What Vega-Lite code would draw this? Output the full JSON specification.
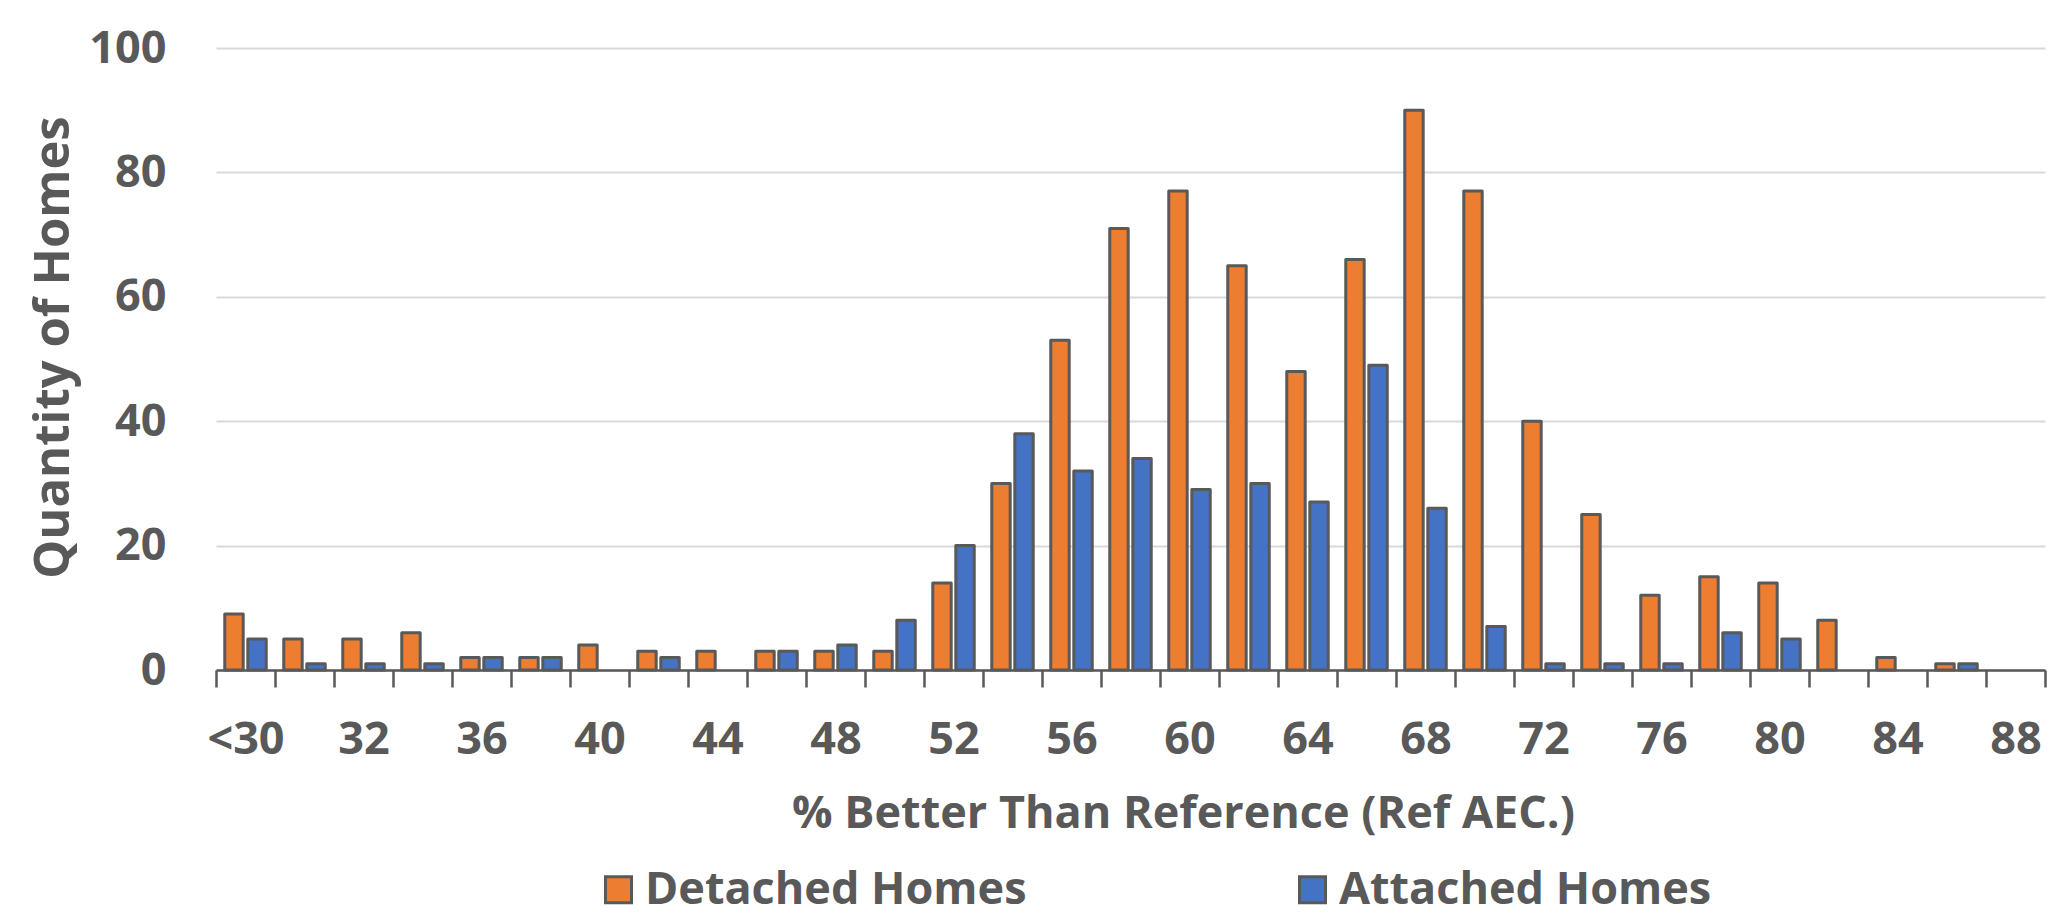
{
  "$schema": "https://vega.github.io/schema/vega-lite/v6.json",
  "width": 1829,
  "height": 622,
  "autosize": {"type": "none"},
  "padding": {"left": 216, "top": 48, "right": 27, "bottom": 253},
  "background": "white",
  "config": {
    "view": {"stroke": null},
    "font": "Open Sans"
  },
  "data": {
    "values": [
      {"bin": "<30", "type": "Detached Homes", "count": 9},
      {"bin": "<30", "type": "Attached Homes", "count": 5},
      {"bin": "30", "type": "Detached Homes", "count": 5},
      {"bin": "30", "type": "Attached Homes", "count": 1},
      {"bin": "32", "type": "Detached Homes", "count": 5},
      {"bin": "32", "type": "Attached Homes", "count": 1},
      {"bin": "34", "type": "Detached Homes", "count": 6},
      {"bin": "34", "type": "Attached Homes", "count": 1},
      {"bin": "36", "type": "Detached Homes", "count": 2},
      {"bin": "36", "type": "Attached Homes", "count": 2},
      {"bin": "38", "type": "Detached Homes", "count": 2},
      {"bin": "38", "type": "Attached Homes", "count": 2},
      {"bin": "40", "type": "Detached Homes", "count": 4},
      {"bin": "42", "type": "Detached Homes", "count": 3},
      {"bin": "42", "type": "Attached Homes", "count": 2},
      {"bin": "44", "type": "Detached Homes", "count": 3},
      {"bin": "46", "type": "Detached Homes", "count": 3},
      {"bin": "46", "type": "Attached Homes", "count": 3},
      {"bin": "48", "type": "Detached Homes", "count": 3},
      {"bin": "48", "type": "Attached Homes", "count": 4},
      {"bin": "50", "type": "Detached Homes", "count": 3},
      {"bin": "50", "type": "Attached Homes", "count": 8},
      {"bin": "52", "type": "Detached Homes", "count": 14},
      {"bin": "52", "type": "Attached Homes", "count": 20},
      {"bin": "54", "type": "Detached Homes", "count": 30},
      {"bin": "54", "type": "Attached Homes", "count": 38},
      {"bin": "56", "type": "Detached Homes", "count": 53},
      {"bin": "56", "type": "Attached Homes", "count": 32},
      {"bin": "58", "type": "Detached Homes", "count": 71},
      {"bin": "58", "type": "Attached Homes", "count": 34},
      {"bin": "60", "type": "Detached Homes", "count": 77},
      {"bin": "60", "type": "Attached Homes", "count": 29},
      {"bin": "62", "type": "Detached Homes", "count": 65},
      {"bin": "62", "type": "Attached Homes", "count": 30},
      {"bin": "64", "type": "Detached Homes", "count": 48},
      {"bin": "64", "type": "Attached Homes", "count": 27},
      {"bin": "66", "type": "Detached Homes", "count": 66},
      {"bin": "66", "type": "Attached Homes", "count": 49},
      {"bin": "68", "type": "Detached Homes", "count": 90},
      {"bin": "68", "type": "Attached Homes", "count": 26},
      {"bin": "70", "type": "Detached Homes", "count": 77},
      {"bin": "70", "type": "Attached Homes", "count": 7},
      {"bin": "72", "type": "Detached Homes", "count": 40},
      {"bin": "72", "type": "Attached Homes", "count": 1},
      {"bin": "74", "type": "Detached Homes", "count": 25},
      {"bin": "74", "type": "Attached Homes", "count": 1},
      {"bin": "76", "type": "Detached Homes", "count": 12},
      {"bin": "76", "type": "Attached Homes", "count": 1},
      {"bin": "78", "type": "Detached Homes", "count": 15},
      {"bin": "78", "type": "Attached Homes", "count": 6},
      {"bin": "80", "type": "Detached Homes", "count": 14},
      {"bin": "80", "type": "Attached Homes", "count": 5},
      {"bin": "82", "type": "Detached Homes", "count": 8},
      {"bin": "84", "type": "Detached Homes", "count": 2},
      {"bin": "86", "type": "Detached Homes", "count": 1},
      {"bin": "86", "type": "Attached Homes", "count": 1}
    ]
  },
  "mark": {"type": "bar", "stroke": "#595959", "strokeWidth": 3, "strokeJoin": "round"},
  "encoding": {
    "x": {
      "field": "bin",
      "type": "nominal",
      "scale": {
        "domain": ["<30", "30", "32", "34", "36", "38", "40", "42", "44", "46", "48", "50", "52", "54", "56", "58", "60", "62", "64", "66", "68", "70", "72", "74", "76", "78", "80", "82", "84", "86", "88"],
        "paddingInner": 0,
        "paddingOuter": 0
      },
      "axis": {
        "title": "% Better Than Reference (Ref AEC.)",
        "titleFontSize": 45,
        "titleFontWeight": "bold",
        "titleColor": "#595959",
        "titleX": 967,
        "titleY": 143,
        "titleAnchor": "middle",
        "titleAlign": "center",
        "titleBaseline": "middle",
        "labelAngle": 0,
        "labelFontSize": 45,
        "labelFontWeight": "bold",
        "labelColor": "#595959",
        "labelPadding": 30,
        "labelOverlap": false,
        "labelExpr": "indexof(['<30','32','36','40','44','48','52','56','60','64','68','72','76','80','84','88'], datum.value) >= 0 ? datum.label : ''",
        "domainColor": "#595959",
        "domainWidth": 2.5,
        "tickColor": "#595959",
        "tickWidth": 2.5,
        "tickSize": 17,
        "tickBand": "extent",
        "grid": false
      }
    },
    "xOffset": {
      "field": "type",
      "type": "nominal",
      "scale": {"domain": ["Detached Homes", "Attached Homes"], "paddingInner": 0.2, "paddingOuter": 0.38}
    },
    "y": {
      "field": "count",
      "type": "quantitative",
      "scale": {"domain": [0, 100]},
      "axis": {
        "values": [0, 20, 40, 60, 80, 100],
        "title": "Quantity of Homes",
        "titleFontSize": 49,
        "titleFontWeight": "bold",
        "titleColor": "#595959",
        "titleX": -163,
        "titleY": 299,
        "titleAngle": 270,
        "titleAlign": "center",
        "titleBaseline": "middle",
        "labelFontSize": 45,
        "labelFontWeight": "bold",
        "labelColor": "#595959",
        "labelPadding": 50,
        "domain": false,
        "ticks": false,
        "grid": true,
        "gridColor": "#D9D9D9",
        "gridWidth": 2
      }
    },
    "color": {
      "field": "type",
      "type": "nominal",
      "scale": {"domain": ["Detached Homes", "Attached Homes"], "range": ["#ED7D31", "#4472C4"]},
      "legend": {
        "orient": "none",
        "legendX": 380,
        "legendY": 819,
        "direction": "horizontal",
        "title": null,
        "symbolType": "square",
        "symbolSize": 676,
        "symbolStrokeColor": "#595959",
        "symbolStrokeWidth": 3,
        "symbolOpacity": 1,
        "labelFontSize": 45,
        "labelFontWeight": "bold",
        "labelColor": "#595959",
        "labelOffset": 4,
        "labelLimit": 0,
        "columnPadding": 263
      }
    }
  }
}
